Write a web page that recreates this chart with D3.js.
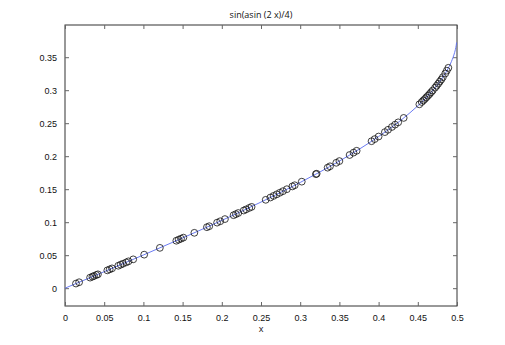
<!DOCTYPE html>
<html>
<head>
<meta charset="utf-8">
<script src="https://cdn.jsdelivr.net/npm/d3@7"></script>
<style>
  html, body { margin: 0; padding: 0; background: #fff; }
  svg { display: block; font-family: "Open Sans", "Noto Sans", sans-serif; }
</style>
</head>
<body>
<svg id="chart" width="505" height="345"></svg>
<script>
// ---- data ----
const titleText = "sin(asin (2 x)/4)";
const xLabel = "x";
const xTicks = [0, 0.05, 0.1, 0.15, 0.2, 0.25, 0.3, 0.35, 0.4, 0.45, 0.5];
const yTicks = [0, 0.05, 0.1, 0.15, 0.2, 0.25, 0.3, 0.35];

// curve (blue line)
const lineX = [0, 0.05, 0.1, 0.15, 0.2, 0.25, 0.3, 0.325, 0.35, 0.375, 0.4, 0.425, 0.44, 0.45, 0.46, 0.47, 0.475, 0.48, 0.485, 0.49, 0.493, 0.495, 0.497, 0.498, 0.499, 0.4995];
const lineY = [0, 0.025, 0.0503, 0.0761, 0.1027, 0.1305, 0.1602, 0.176, 0.1926, 0.2104, 0.2298, 0.2513, 0.2658, 0.2763, 0.2879, 0.3009, 0.3082, 0.3162, 0.3253, 0.336, 0.3437, 0.3498, 0.3572, 0.3619, 0.368, 0.3723];

// sample points (circles)
const pointX = [0.014, 0.018, 0.032, 0.035, 0.037, 0.040, 0.042, 0.054, 0.057, 0.060, 0.068, 0.071, 0.074, 0.078, 0.081, 0.087, 0.101, 0.121, 0.142, 0.145, 0.148, 0.151, 0.165, 0.181, 0.184, 0.194, 0.198, 0.204, 0.215, 0.218, 0.221, 0.228, 0.231, 0.235, 0.238, 0.256, 0.262, 0.266, 0.270, 0.274, 0.278, 0.283, 0.290, 0.293, 0.302, 0.320, 0.321, 0.335, 0.338, 0.346, 0.350, 0.363, 0.368, 0.372, 0.391, 0.395, 0.400, 0.408, 0.412, 0.417, 0.421, 0.425, 0.432, 0.452, 0.455, 0.457, 0.459, 0.461, 0.463, 0.465, 0.467, 0.469, 0.472, 0.474, 0.476, 0.478, 0.480, 0.482, 0.485, 0.487, 0.489];
const pointY = [0.007, 0.009, 0.016, 0.0175, 0.0185, 0.020, 0.021, 0.027, 0.0285, 0.030, 0.034, 0.0356, 0.0371, 0.0391, 0.0407, 0.0437, 0.0508, 0.0611, 0.0719, 0.0735, 0.075, 0.0766, 0.0839, 0.0924, 0.0939, 0.0993, 0.1014, 0.1047, 0.1106, 0.1122, 0.1139, 0.1177, 0.1194, 0.1216, 0.1232, 0.1339, 0.1374, 0.1398, 0.1422, 0.1446, 0.147, 0.15, 0.1542, 0.156, 0.1614, 0.1728, 0.1734, 0.1826, 0.1847, 0.190, 0.1926, 0.2018, 0.2054, 0.2082, 0.2227, 0.2259, 0.2298, 0.2365, 0.240, 0.2443, 0.2478, 0.2513, 0.258, 0.2786, 0.2821, 0.2844, 0.2867, 0.2892, 0.2917, 0.2942, 0.2969, 0.2996, 0.3038, 0.3067, 0.3098, 0.313, 0.3162, 0.3198, 0.3253, 0.3296, 0.3339];

// ---- layout ----
const svg = d3.select("#chart");
const L = 65, R = 457, T = 25, B = 306;
const x = d3.scaleLinear().domain([0, 0.5]).range([L, R]);
const y = d3.scaleLinear().domain([-0.027, 0.3988]).range([B, T]);
const fmt = d3.format("~g");
const axisColor = "#333";
const fontSize = "9px";

// frame
svg.append("rect").attr("x", L).attr("y", T).attr("width", R - L).attr("height", B - T)
  .attr("fill", "none").attr("stroke", axisColor).attr("stroke-width", 1);

function styleAxis(g, showLabels) {
  g.select(".domain").remove();
  g.selectAll(".tick line").attr("stroke", "#666");
  g.selectAll(".tick text").attr("fill", "#111").style("font-size", fontSize);
  if (!showLabels) g.selectAll(".tick text").remove();
}

// bottom
svg.append("g").attr("transform", `translate(0,${B})`)
  .call(d3.axisBottom(x).tickValues(xTicks).tickFormat(fmt).tickSizeInner(-4).tickSizeOuter(0).tickPadding(9))
  .call(g => styleAxis(g, true));
// top
svg.append("g").attr("transform", `translate(0,${T})`)
  .call(d3.axisTop(x).tickValues(xTicks).tickSizeInner(-4).tickSizeOuter(0))
  .call(g => styleAxis(g, false));
// left
svg.append("g").attr("transform", `translate(${L},0)`)
  .call(d3.axisLeft(y).tickValues(yTicks).tickFormat(fmt).tickSizeInner(-4).tickSizeOuter(0).tickPadding(8))
  .call(g => styleAxis(g, true));
// right
svg.append("g").attr("transform", `translate(${R},0)`)
  .call(d3.axisRight(y).tickValues(yTicks).tickSizeInner(-4).tickSizeOuter(0))
  .call(g => styleAxis(g, false));

// curve
const lineData = lineX.map((v, i) => [v, lineY[i]]);
svg.append("path").datum(lineData)
  .attr("fill", "none").attr("stroke", "#5a6cf0").attr("stroke-width", 0.9)
  .attr("d", d3.line().x(d => x(d[0])).y(d => y(d[1])).curve(d3.curveMonotoneX));

// points
const pts = pointX.map((v, i) => [v, pointY[i]]);
svg.append("g").selectAll("circle").data(pts).join("circle")
  .attr("cx", d => x(d[0])).attr("cy", d => y(d[1])).attr("r", 3.4)
  .attr("fill", "none").attr("stroke", "#111").attr("stroke-width", 0.8);

// title & label
svg.append("text").attr("x", (L + R) / 2).attr("y", 18).attr("text-anchor", "middle")
  .style("font-size", fontSize).attr("fill", "#111").text(titleText);
svg.append("text").attr("x", (L + R) / 2).attr("y", 332).attr("text-anchor", "middle")
  .style("font-size", fontSize).attr("fill", "#111").text(xLabel);
</script>
</body>
</html>
